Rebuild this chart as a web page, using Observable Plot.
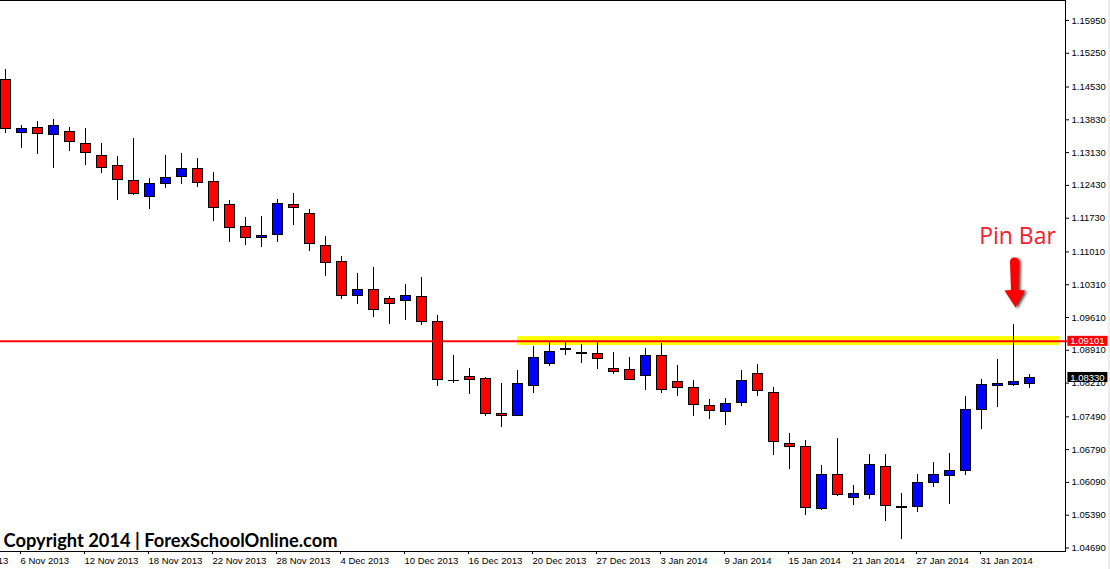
<!DOCTYPE html>
<html>
<head>
<meta charset="utf-8">
<style>html,body{margin:0;padding:0;background:#fff}svg{display:block}</style>
<script src="https://cdn.jsdelivr.net/npm/d3@7"></script>
<script src="https://cdn.jsdelivr.net/npm/@observablehq/plot@0.6"></script>
</head>
<body>
<script>
const opens = [1.14683,1.13545,1.13658,1.13502,1.13573,1.13317,1.13061,1.12847,1.12527,1.12178,1.12456,1.12605,1.12783,1.12505,1.12014,1.11545,1.11303,1.11367,1.12014,1.11822,1.11139,1.10797,1.10064,1.10200,1.10008,1.09958,1.10050,1.09517,1.08260,1.08342,1.08300,1.07552,1.07502,1.08143,1.08613,1.08933,1.08848,1.08833,1.08513,1.08492,1.08356,1.08790,1.08235,1.08107,1.07723,1.07588,1.07780,1.08406,1.08001,1.06912,1.06848,1.05517,1.06250,1.05752,1.05816,1.06421,1.05560,1.05560,1.06072,1.06222,1.06328,1.07630,1.08143,1.08165,1.08186];
const highs = [1.14904,1.13708,1.13794,1.13836,1.13665,1.13644,1.13324,1.13046,1.13431,1.12577,1.13068,1.13110,1.13004,1.12705,1.12107,1.11744,1.11765,1.12128,1.12256,1.11915,1.11338,1.10911,1.10548,1.10677,1.10050,1.10314,1.10463,1.09652,1.08798,1.08520,1.08328,1.08200,1.08477,1.08990,1.09104,1.09082,1.09032,1.09097,1.08862,1.08755,1.08947,1.09054,1.08584,1.08264,1.07858,1.07879,1.08477,1.08606,1.08115,1.07132,1.06983,1.06449,1.07026,1.06022,1.06684,1.06684,1.05851,1.06257,1.06513,1.06706,1.07922,1.08285,1.08712,1.09460,1.08392];
const lows = [1.13545,1.13217,1.13089,1.12797,1.13153,1.12854,1.12683,1.12107,1.12221,1.11915,1.12363,1.12448,1.12384,1.11658,1.11210,1.11146,1.11103,1.11210,1.11573,1.11018,1.10484,1.09993,1.09886,1.09609,1.09460,1.09545,1.09438,1.08136,1.08200,1.07965,1.07495,1.07260,1.07500,1.07986,1.08563,1.08798,1.08627,1.08499,1.08392,1.08271,1.08050,1.07986,1.07922,1.07495,1.07431,1.07303,1.07709,1.07922,1.06663,1.06364,1.05382,1.05488,1.05787,1.05595,1.05723,1.05253,1.04869,1.05446,1.05980,1.05616,1.06236,1.07218,1.07688,1.08136,1.08094];
const closes = [1.13637,1.13637,1.13523,1.13701,1.13352,1.13117,1.12797,1.12541,1.12242,1.12463,1.12591,1.12783,1.12477,1.11943,1.11516,1.11303,1.11352,1.12036,1.11943,1.11175,1.10769,1.10064,1.10200,1.09765,1.09894,1.10072,1.09509,1.08271,1.08252,1.08271,1.07545,1.07502,1.08193,1.08748,1.08876,1.08919,1.08833,1.08719,1.08442,1.08271,1.08790,1.08058,1.08100,1.07737,1.07609,1.07766,1.08257,1.08036,1.06947,1.06841,1.05538,1.06250,1.05816,1.05844,1.06463,1.05581,1.05545,1.06079,1.06250,1.06335,1.07638,1.08171,1.08193,1.08236,1.08321];

const priceTicks = [1.15950,1.15250,1.14530,1.13830,1.13130,1.12430,1.11730,1.11010,1.10310,1.09610,1.08910,1.08210,1.07490,1.06790,1.06090,1.05390,1.04690];
const dateLabels = ["31 Oct 2013","6 Nov 2013","12 Nov 2013","18 Nov 2013","22 Nov 2013","28 Nov 2013","4 Dec 2013","10 Dec 2013","16 Dec 2013","20 Dec 2013","27 Dec 2013","3 Jan 2014","9 Jan 2014","15 Jan 2014","21 Jan 2014","27 Jan 2014","31 Jan 2014"];
const dateTickIndex = [-3,1,5,9,13,17,21,25,29,33,37,41,45,49,53,57,61];

const levelPrice = 1.09101;
const lastPrice = 1.08330;
const zoneLow = 1.09011;
const zoneHigh = 1.09203;
const pinBarIndex = 63;
const pinArrowTop = 1.10893;
const pinLabelPrice = 1.11338;

const candles = opens.map((open, i) => ({i, open, high: highs[i], low: lows[i], close: closes[i]}));
const priceLabel = d3.format(".5f");

// Thick red arrow drawn from its top downward, in local pixels
const arrowShape = {
  draw(c) {
    c.moveTo(-4.5, 4.5);
    c.quadraticCurveTo(-4.5, 0, 0, 0);
    c.quadraticCurveTo(4.5, 0, 4.5, 4.5);
    c.lineTo(3.8, 32.5);
    c.lineTo(10.5, 33);
    c.lineTo(1, 50);
    c.lineTo(-10, 33);
    c.lineTo(-3.5, 32.5);
    c.closePath();
  }
};

const chart = Plot.plot({
  width: 1110,
  height: 569,
  marginTop: 0,
  marginRight: 45,
  marginBottom: 18,
  marginLeft: 0,
  style: {
    fontFamily: "'Liberation Sans', sans-serif",
    fontSize: "9.5px",
    color: "#000",
    background: "linear-gradient(to right,#fff 1108px,#ececec 1108px)",
    overflow: "hidden"
  },
  x: {type: "linear", domain: [0, 64], range: [5, 1029], axis: null},
  y: {type: "linear", domain: [1.04690, 1.15950], range: [547.5, 20], axis: null},
  marks: [
    Plot.rect([0], {x1: 32, x2: 65.9, y1: zoneLow, y2: zoneHigh, fill: "#ffff00"}),
    Plot.ruleX(candles, {x: "i", y1: "low", y2: "high", stroke: "#000", strokeWidth: 1, shapeRendering: "crispEdges"}),
    Plot.rect(candles, {
      x1: d => d.i - 5 / 16,
      x2: d => d.i + 5 / 16,
      y1: "open",
      y2: "close",
      fill: d => (d.close > d.open ? "#0000ff" : "#ff0000"),
      stroke: "#000",
      strokeWidth: 1,
      shapeRendering: "crispEdges"
    }),
    Plot.ruleY([levelPrice], {x1: -0.4, x2: 66.4, stroke: "#ff0000", strokeWidth: 2}),

    Plot.frame({anchor: "top", stroke: "#000"}),
    Plot.frame({anchor: "right", stroke: "#000"}),
    Plot.frame({anchor: "bottom", stroke: "#000"}),
    Plot.axisY(priceTicks, {anchor: "right", tickSize: 3, tickPadding: 3, tickFormat: priceLabel, label: null, stroke: "#000", fill: "#000"}),
    Plot.axisX(dateTickIndex, {
      anchor: "bottom",
      tickSize: 3,
      tickPadding: 3,
      tickFormat: i => dateLabels[dateTickIndex.indexOf(i)],
      textAnchor: "start",
      dx: -1,
      label: null,
      stroke: "#000",
      fill: "#000"
    }),

    Plot.rect([levelPrice], {x1: 66.4, x2: 68.9, y1: d => d - 0.00107, y2: d => d + 0.00107, fill: "#ff0000"}),
    Plot.rect([lastPrice], {x1: 66.4, x2: 68.9, y1: d => d - 0.00107, y2: d => d + 0.00107, fill: "#000"}),
    Plot.text([levelPrice], {x: 66.55, y: d => d, text: priceLabel, fill: "#fff", textAnchor: "start"}),
    Plot.text([lastPrice], {x: 66.55, y: d => d, text: priceLabel, fill: "#fff", textAnchor: "start"}),

    Plot.text(["Pin Bar"], {
      x: pinBarIndex,
      y: pinLabelPrice,
      dx: 4,
      text: d => d,
      fill: "#f0202c",
      fontSize: 23,
      fontFamily: "'Open Sans', sans-serif",
      textAnchor: "middle"
    }),
    Plot.vector([0], {
      x: pinBarIndex,
      y: pinArrowTop,
      dx: 1,
      length: 50,
      anchor: "start",
      shape: arrowShape,
      fill: "#ff0000",
      stroke: "none",
      imageFilter: "drop-shadow(2px 1px 1.5px #444)"
    }),
    Plot.text(["Copyright 2014 | ForexSchoolOnline.com"], {
      frameAnchor: "bottom-left",
      dx: 3,
      dy: -5,
      text: d => d,
      fill: "#000",
      fontSize: 18.3,
      fontWeight: "bold",
      fontFamily: "Lato, sans-serif",
      textAnchor: "start"
    })
  ]
});
document.body.appendChild(chart);
</script>
</body>
</html>
